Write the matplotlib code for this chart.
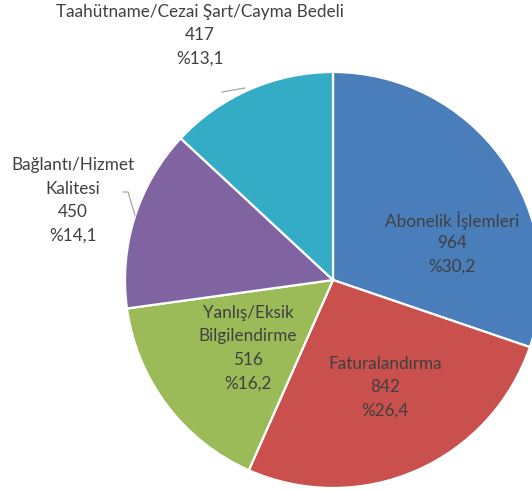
import matplotlib
matplotlib.use("Agg")
import matplotlib.pyplot as plt

categories = ["Abonelik İşlemleri", "Faturalandırma", "Yanlış/Eksik\nBilgilendirme",
              "Bağlantı/Hizmet\nKalitesi", "Taahütname/Cezai Şart/Cayma Bedeli"]
counts = [964, 842, 516, 450, 417]
percents = ["%30,2", "%26,4", "%16,2", "%14,1", "%13,1"]
colors = ["#4A7EBB", "#C9504D", "#9BBB59", "#8064A2", "#35ACC6"]

W, H = 532, 490
fig = plt.figure(figsize=(W / 100, H / 100), dpi=100)
ax = fig.add_axes([0, 0, 1, 1])

cx, cy, r = 333, H - 280, 208
ax.pie(counts, colors=colors, startangle=90, counterclock=False,
       center=(cx, cy), radius=r, frame=True,
       wedgeprops=dict(edgecolor="white", linewidth=1.6))
ax.set_xlim(0, W)
ax.set_ylim(0, H)
ax.set_aspect("equal")
ax.axis("off")

# label anchor positions (pixel coords from top-left), first line center
label_pos = [(452, 220), (385, 364), (248, 313), (73, 165), (200, 12)]
line_h = 23.5
for cat, n, p, (x, y) in zip(categories, counts, percents, label_pos):
    lines = cat.split("\n") + [str(n), p]
    for i, t in enumerate(lines):
        ax.text(x, H - (y + i * line_h), t, ha="center", va="center",
                fontsize=12.3, color="#404040", family=["Lato", "DejaVu Sans"])

# leader lines
ax.plot([222, 245], [H - 92, H - 88], color="#A6A6A6", lw=0.9)
ax.plot([123, 128, 135], [H - 192, H - 192, H - 215], color="#A6A6A6", lw=0.9)

fig.savefig("out.png", dpi=100, facecolor="white")
